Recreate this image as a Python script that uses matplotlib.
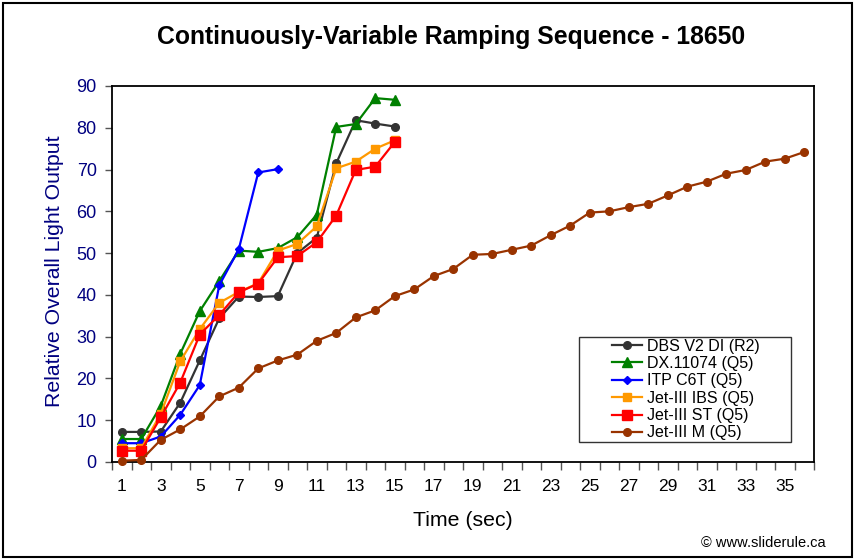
import numpy as np
import matplotlib
matplotlib.use("Agg")
import matplotlib.pyplot as plt
from matplotlib.patches import Rectangle

plt.rcParams['font.family'] = ['Liberation Sans', 'DejaVu Sans']

title = "Continuously-Variable Ramping Sequence - 18650"
x_label = "Time (sec)"
y_label = "Relative Overall Light Output"
credit = "\u00a9 www.sliderule.ca"

categories = list(range(1, 37))

dbs_v2 = [7.2, 7.2, 7.3, 14.2, 24.3, 34.4, 39.6, 39.5, 39.7, 50.0, 53.7, 71.5, 81.8, 81.0, 80.3]
dx_11074 = [5.5, 5.5, 13.4, 25.9, 36.1, 43.3, 50.6, 50.3, 51.2, 53.8, 59.2, 80.2, 80.9, 87.1, 86.7]
itp_c6t = [4.5, 4.5, 6.1, 11.3, 18.4, 42.3, 50.9, 69.3, 70.1]
jet_ibs = [3.3, 3.3, 11.5, 24.1, 31.8, 38.1, 40.7, 42.8, 50.6, 52.2, 56.4, 70.3, 71.9, 75.0, 77.0]
jet_st = [2.7, 2.7, 10.7, 19.0, 30.5, 35.2, 40.6, 42.7, 49.0, 49.3, 52.6, 59.0, 69.9, 70.7, 76.6]
jet_m = [0.3, 0.5, 5.3, 7.8, 10.9, 15.7, 17.8, 22.4, 24.3, 25.7, 29.0, 30.9, 34.6, 36.3, 39.7,
         41.3, 44.5, 46.2, 49.6, 49.8, 50.8, 51.8, 54.3, 56.6, 59.7, 60.0, 61.0, 61.8, 63.8,
         65.9, 67.1, 69.0, 69.9, 71.9, 72.6, 74.2]

series = [
    ("DBS V2 DI (R2)", dbs_v2, "#333333", "o", 5.5),
    ("DX.11074 (Q5)", dx_11074, "#008000", "^", 6.5),
    ("ITP C6T (Q5)", itp_c6t, "#0000FF", "D", 4.5),
    ("Jet-III IBS (Q5)", jet_ibs, "#FF9900", "s", 6.0),
    ("Jet-III ST (Q5)", jet_st, "#FF0000", "s", 6.5),
    ("Jet-III M (Q5)", jet_m, "#993300", "o", 5.5),
]

y_ticks = list(range(0, 91, 10))
x_tick_labels = categories[::2]

fig = plt.figure(figsize=(8.55, 5.60), dpi=100)
ax = fig.add_axes([112 / 855, 1 - 462 / 560, (814 - 112) / 855, (462 - 86) / 560])

for i, (name, vals, col, mk, ms) in enumerate(series):
    ax.plot(categories[:len(vals)], vals, color=col, marker=mk, markersize=ms,
            markerfacecolor=col, markeredgecolor=col, linewidth=1.6, label=name,
            clip_on=False, zorder=3 + i)

ax.set_xlim(0.5, 36.5)
ax.set_ylim(0, 90)
ax.set_yticks(y_ticks)
ax.set_yticklabels([str(v) for v in y_ticks])
ax.set_xticks(x_tick_labels)
ax.set_xticklabels([str(v) for v in x_tick_labels])
ax.set_xticks(np.arange(0.5, 37, 1), minor=True)
ax.tick_params(axis='x', which='major', length=0, pad=12, labelsize=12.5, labelcolor='black')
ax.tick_params(axis='x', which='minor', length=6, width=1, color='#555555', direction='out')
ax.tick_params(axis='y', which='major', length=5, width=1, color='#555555', direction='out',
               pad=6, labelsize=13, labelcolor='#000080')
for sp in ax.spines.values():
    sp.set_linewidth(1.3)
    sp.set_color('black')

fig.text(0.528, 1 - 37 / 560, title, ha='center', va='center', fontsize=17.8, fontweight='bold')
fig.text(55 / 855, 1 - 271 / 560, y_label, ha='center', va='center', rotation=90,
         fontsize=15.3, color='#000080')
fig.text(463 / 855, 1 - 521 / 560, x_label, ha='center', va='center', fontsize=15.3)
fig.text(826 / 855, 1 - 543 / 560, credit, ha='right', va='center', fontsize=10.5)

leg = fig.legend(loc='center', bbox_to_anchor=(686 / 855, 1 - 389.5 / 560), frameon=False,
                 fontsize=11.5, handlelength=1.9, handletextpad=0.3, labelspacing=0.15,
                 borderpad=0)
fig.add_artist(Rectangle((579 / 855, 1 - 442 / 560), 212 / 855, 105 / 560,
                         transform=fig.transFigure, fill=False, edgecolor='#333333', linewidth=1))
fig.add_artist(Rectangle((3 / 855, 3 / 560), 849 / 855, 554 / 560,
                         transform=fig.transFigure, fill=False, edgecolor='black', linewidth=1.5))

fig.savefig("out.png", dpi=100)
